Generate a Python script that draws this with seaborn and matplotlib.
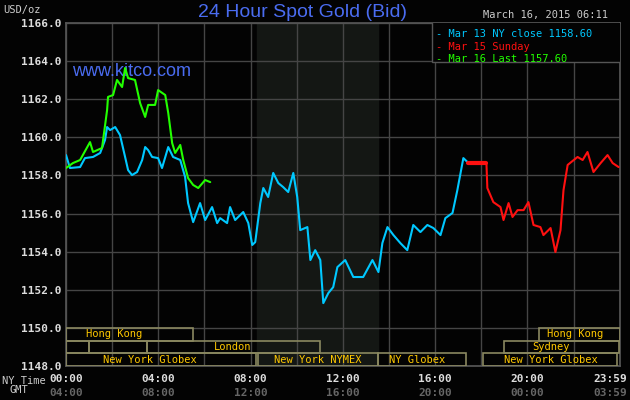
import numpy as np
import pandas as pd
import matplotlib
matplotlib.use("Agg")
import matplotlib.pyplot as plt
from matplotlib.patches import Rectangle
import seaborn as sns

# hours since 00:00 NY time, price in USD/oz
mar13_t = [0.00, 0.17, 0.61, 0.82, 1.17, 1.48, 1.69, 1.78, 1.91, 2.13, 2.34, 2.56, 2.69, 2.86,
           3.08, 3.30, 3.43, 3.56, 3.73, 3.99, 4.16, 4.43, 4.64, 4.95, 5.16, 5.29, 5.51, 5.81,
           6.03, 6.33, 6.55, 6.68, 6.98, 7.11, 7.33, 7.68, 7.90, 8.07, 8.20, 8.42, 8.55, 8.76,
           8.98, 9.20, 9.41, 9.63, 9.85, 10.02, 10.15, 10.46, 10.59, 10.80, 11.02, 11.15, 11.37,
           11.58, 11.76, 12.10, 12.45, 12.88, 13.28, 13.54, 13.71, 13.93, 14.19, 14.49, 14.79,
           15.05, 15.36, 15.66, 15.92, 16.23, 16.44, 16.75, 16.96, 17.18, 17.22, 17.40]
mar13_p = [1159.07, 1158.39, 1158.44, 1158.91, 1158.97, 1159.18, 1159.86, 1160.54, 1160.38,
           1160.54, 1160.12, 1158.97, 1158.28, 1158.02, 1158.18, 1158.81, 1159.49, 1159.33,
           1158.97, 1158.91, 1158.39, 1159.49, 1158.97, 1158.81, 1157.92, 1156.55, 1155.55,
           1156.55, 1155.66, 1156.34, 1155.50, 1155.76, 1155.50, 1156.34, 1155.66, 1156.08,
           1155.50, 1154.35, 1154.50, 1156.55, 1157.34, 1156.87, 1158.13, 1157.60, 1157.39,
           1157.13, 1158.13, 1156.87, 1155.13, 1155.29, 1153.56, 1154.08, 1153.56, 1151.30,
           1151.83, 1152.14, 1153.19, 1153.56, 1152.67, 1152.67, 1153.56, 1152.93, 1154.45,
           1155.29, 1154.87, 1154.45, 1154.08, 1155.40, 1155.03, 1155.40, 1155.24, 1154.87,
           1155.76, 1156.03, 1157.23, 1158.65, 1158.91, 1158.70]

mar15_t = [17.40, 18.22, 18.26, 18.52, 18.83, 18.96, 19.18, 19.35, 19.57, 19.83, 20.04, 20.26,
           20.56, 20.69, 21.00, 21.21, 21.43, 21.56, 21.74, 22.17, 22.39, 22.60, 22.86, 23.17,
           23.47, 23.69, 23.95]
mar15_p = [1158.65, 1158.65, 1157.34, 1156.60, 1156.34, 1155.66, 1156.55, 1155.82, 1156.18,
           1156.18, 1156.60, 1155.40, 1155.29, 1154.87, 1155.24, 1153.98, 1155.13, 1157.23,
           1158.55, 1158.97, 1158.81, 1159.23, 1158.18, 1158.65, 1159.07, 1158.65, 1158.44]

mar16_t = [0.00, 0.30, 0.61, 1.04, 1.17, 1.56, 1.78, 1.82, 2.04, 2.21, 2.43, 2.56, 2.69, 2.99,
           3.21, 3.43, 3.56, 3.86, 3.99, 4.30, 4.43, 4.60, 4.73, 4.95, 5.08, 5.29, 5.51, 5.73,
           6.03, 6.25]
mar16_p = [1158.39, 1158.65, 1158.81, 1159.75, 1159.23, 1159.44, 1161.43, 1162.12, 1162.22,
           1163.01, 1162.64, 1163.64, 1163.11, 1163.01, 1161.80, 1161.07, 1161.70, 1161.70,
           1162.48, 1162.22, 1161.28, 1159.70, 1159.18, 1159.60, 1158.81, 1157.86, 1157.50,
           1157.34, 1157.76, 1157.65]

ny_ticks = [0, 4, 8, 12, 16, 20, 23.983]
ny_labels = ["00:00", "04:00", "08:00", "12:00", "16:00", "20:00", "23:59"]
gmt_labels = ["04:00", "08:00", "12:00", "16:00", "20:00", "00:00", "03:59"]

# market sessions: (row, start, end, label, label_x)
sessions = [
    (0, 0.0, 5.51, "Hong Kong", 2.1),
    (0, 20.5, 24.0, "Hong Kong", 22.05),
    (1, 0.0, 1.0, "", 0),
    (1, 1.0, 3.5, "", 0),
    (1, 3.5, 11.0, "London", 7.2),
    (1, 19.0, 23.95, "Sydney", 21.0),
    (2, 0.0, 8.25, "New York Globex", 3.65),
    (2, 8.33, 13.5, "New York NYMEX", 10.9),
    (2, 13.5, 17.35, "NY Globex", 15.2),
    (2, 18.05, 23.9, "New York Globex", 21.0),
]

BG = "#030303"
MONO = "DejaVu Sans Mono"
sns.set_theme(style="dark")

fig = plt.figure(figsize=(6.3, 4.0), dpi=100, facecolor=BG)
ax = fig.add_axes([0.1048, 0.085, 0.879, 0.8575], facecolor=BG)

ax.axvspan(8.29, 13.54, color="#141714", zorder=0)
ax.set_xlim(0, 24)
ax.set_ylim(1148, 1166)
ax.set_xticks(np.arange(0, 25, 2))
ax.set_yticks(np.arange(1148, 1167, 2))
ax.grid(True, color="#454545", linewidth=1)
ax.set_axisbelow(True)
for s in ax.spines.values():
    s.set_color("#555555")
ax.tick_params(length=0)
ax.set_xticklabels([])
ax.set_yticklabels(["%.1f" % v for v in np.arange(1148, 1167, 2)],
                   family=MONO, color="#dddddd", fontsize=8, fontweight="bold")

df13 = pd.DataFrame({"t": mar13_t, "p": mar13_p})
df15 = pd.DataFrame({"t": mar15_t, "p": mar15_p})
df16 = pd.DataFrame({"t": mar16_t, "p": mar16_p})
sns.lineplot(data=df13, x="t", y="p", color="#00c8ff", lw=1.5, ax=ax, zorder=3)
sns.lineplot(data=df15, x="t", y="p", color="#ff1010", lw=1.5, ax=ax, zorder=3)
sns.lineplot(data=df16, x="t", y="p", color="#22ff00", lw=1.5, ax=ax, zorder=4)
ax.plot([17.4, 18.22], [1158.65, 1158.65], color="#ff1010", lw=3, zorder=3)
ax.set_xlabel("")
ax.set_ylabel("")

row_h = 2.0 / 3
for row, x0, x1, lab, lx in sessions:
    y0 = 1150 - (row + 1) * row_h
    ax.add_patch(Rectangle((x0, y0), x1 - x0, row_h, fill=False,
                           edgecolor="#8a8860", lw=1.2, zorder=5))
    if lab:
        ax.text(lx, y0 + row_h / 2, lab, color="#ffc800", family=MONO,
                fontsize=7.5, ha="center", va="center", zorder=6)

for t, a, b in zip(ny_ticks, ny_labels, gmt_labels):
    x, ha = (24.3, "right") if t > 23 else (t, "center")
    ax.text(x, -0.022, a, transform=ax.get_xaxis_transform(), ha=ha, va="top",
            family=MONO, color="#dddddd", fontsize=8, fontweight="bold")
    ax.text(x, -0.065, b, transform=ax.get_xaxis_transform(), ha=ha, va="top",
            family=MONO, color="#666666", fontsize=8, fontweight="bold")
fig.text(0.003, 0.048, "NY Time", family=MONO, color="#cccccc", fontsize=7.5, va="center")
fig.text(0.015, 0.012, "GMT", family=MONO, color="#cccccc", fontsize=7.5, va="bottom")

fig.text(0.005, 0.975, "USD/oz", family=MONO, color="#cccccc", fontsize=7.5, va="center")
fig.text(0.48, 0.968, "24 Hour Spot Gold (Bid)", color="#4a6cf0", fontsize=14,
         ha="center", va="center", family="Liberation Sans")
fig.text(0.965, 0.962, "March 16, 2015 06:11", family=MONO, color="#cccccc",
         fontsize=7.5, ha="right", va="center")
ax.text(0.01, 0.86, "www.kitco.com", transform=ax.transAxes, color="#4a6cf0",
        fontsize=13, va="center", family="Liberation Sans")

# legend box
ax.add_patch(Rectangle((0.66, 0.885), 0.35, 0.12, transform=ax.transAxes,
                       facecolor=BG, edgecolor="#555555", lw=1, zorder=6))
leg = [("Mar 13 NY close 1158.60", "#00c8ff"),
       ("Mar 15 Sunday", "#ff1010"),
       ("Mar 16 Last 1157.60", "#22ff00")]
for i, (txt, c) in enumerate(leg):
    ax.text(0.668, 0.968 - i * 0.037, "- " + txt, transform=ax.transAxes, color=c,
            family=MONO, fontsize=7.5, va="center", zorder=7)

fig.savefig("out.png", dpi=100, facecolor=BG)
